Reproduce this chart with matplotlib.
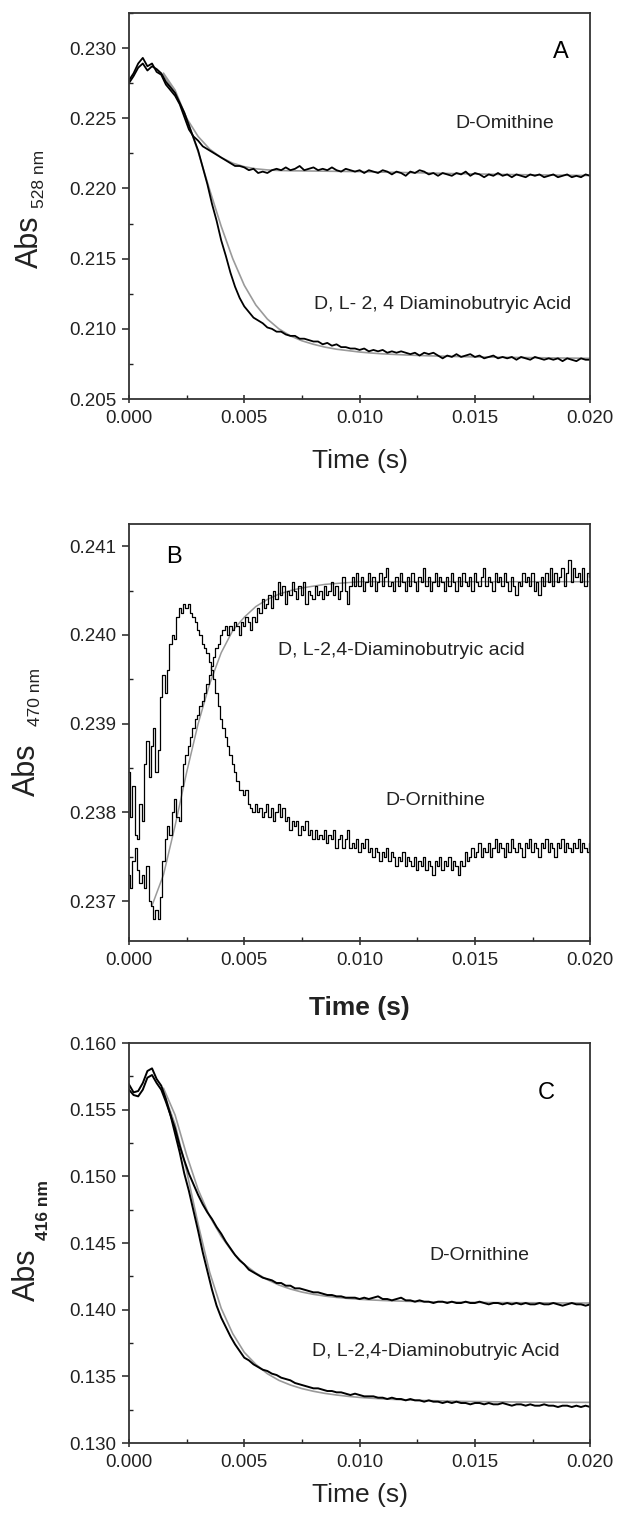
import numpy as np
import matplotlib
matplotlib.use('Agg')
import matplotlib.pyplot as plt
from matplotlib.ticker import MultipleLocator, FormatStrFormatter

plt.rcParams['font.family'] = ['Liberation Sans', 'DejaVu Sans']

# all absorbance values below are in mAbs (x1000)
# panel A, 528 nm, one point every 0.2 ms
a_orn = [227.7, 228.2, 228.9, 229.3, 228.7, 228.9, 228.3, 228.1, 227.4, 227.0,
         226.6, 226.0, 225.1, 224.2, 223.7, 223.4, 223.0, 222.8, 222.6, 222.4,
         222.2, 222.0, 221.8, 221.6, 221.6, 221.5, 221.3, 221.4, 221.1, 221.2,
         221.1, 221.3, 221.4, 221.3, 221.5, 221.3, 221.4, 221.6, 221.3, 221.4,
         221.5, 221.3, 221.4, 221.3, 221.5, 221.3, 221.2, 221.4, 221.3, 221.2,
         221.3, 221.1, 221.3, 221.2, 221.1, 221.3, 221.2, 221.0, 221.2, 221.1,
         220.9, 221.2, 221.1, 221.3, 221.2, 221.0, 221.1, 220.9, 221.1, 221.0,
         220.9, 221.1, 221.0, 221.2, 220.9, 221.1, 221.0, 220.8, 221.0, 220.9,
         221.1, 220.9, 221.0, 220.8, 221.0, 220.9, 220.8, 221.0, 220.9, 221.0,
         220.8, 220.9, 221.0, 220.8, 220.9, 221.0, 220.8, 220.9, 220.8, 221.0,
         220.9]
a_dab = [227.5, 228.0, 228.6, 228.9, 228.4, 228.7, 228.5, 228.2, 227.6, 227.2,
         226.8, 226.1, 225.4, 224.5, 223.6, 222.7, 221.5, 220.3, 218.9, 217.7,
         216.3, 215.2, 214.0, 213.0, 212.2, 211.6, 211.2, 210.8, 210.6, 210.4,
         210.1, 210.0, 209.8, 209.8, 209.6, 209.5, 209.5, 209.3, 209.3, 209.2,
         209.1, 209.1, 208.9, 209.0, 208.8, 208.9, 208.7, 208.7, 208.6, 208.6,
         208.5, 208.6, 208.4, 208.5, 208.4, 208.5, 208.3, 208.4, 208.3, 208.4,
         208.3, 208.2, 208.3, 208.1, 208.3, 208.2, 208.3, 208.1, 207.9, 208.1,
         208.0, 208.2, 208.0, 208.1, 208.2, 208.0, 208.1, 207.9, 208.0, 208.1,
         207.9, 208.0, 207.9, 208.0, 207.8, 208.0, 207.9, 207.8, 208.0, 207.9,
         207.8, 207.9, 207.8, 207.9, 207.7, 207.9, 207.8, 207.7, 207.9, 207.8,
         207.8]
# fitted curves, one point every 0.5 ms from 1.5 ms
a_orn_fit = [228.1, 226.8, 225.0, 223.7, 222.8, 222.2, 221.8, 221.55, 221.4, 221.32,
             221.28, 221.26, 221.25, 221.24, 221.23, 221.22, 221.21, 221.2, 221.18, 221.16,
             221.15, 221.13, 221.12, 221.1, 221.08, 221.06, 221.05, 221.03, 221.02, 221.0,
             220.99, 220.98, 220.97, 220.96, 220.95, 220.94, 220.93, 220.92]
a_dab_fit = [228.2, 227.0, 225.0, 222.6, 219.9, 217.3, 215.0, 213.1, 211.7, 210.7,
             210.0, 209.5, 209.15, 208.9, 208.7, 208.55, 208.45, 208.35, 208.28, 208.22,
             208.18, 208.14, 208.11, 208.08, 208.06, 208.04, 208.02, 208.0, 207.99, 207.98,
             207.97, 207.96, 207.95, 207.94, 207.93, 207.92, 207.91, 207.9]

# panel B, 470 nm, one point every 0.1 ms
b_orn = [238.45, 237.95, 238.30, 237.75, 237.70, 238.10, 237.90, 238.55, 238.80, 238.40,
         238.75, 238.95, 238.45, 238.70, 239.30, 239.55, 239.35, 239.60, 239.90, 240.00,
         239.95, 240.20, 240.30, 240.25, 240.35, 240.30, 240.35, 240.25, 240.20, 240.15,
         240.05, 240.00, 239.90, 239.85, 239.80, 239.70, 239.60, 239.50, 239.35, 239.20,
         239.05, 238.95, 238.85, 238.75, 238.65, 238.55, 238.45, 238.35, 238.25, 238.25,
         238.20, 238.25, 238.10, 238.05, 238.00, 238.10, 238.00, 238.05, 237.95, 238.00,
         238.10, 237.95, 238.05, 237.90, 238.00, 238.10, 237.95, 238.05, 237.90, 237.95,
         237.80, 237.90, 237.85, 237.90, 237.75, 237.85, 237.80, 237.90, 237.75, 237.80,
         237.70, 237.80, 237.70, 237.75, 237.70, 237.80, 237.65, 237.75, 237.70, 237.80,
         237.60, 237.70, 237.75, 237.60, 237.70, 237.80, 237.60, 237.65, 237.60, 237.70,
         237.55, 237.65, 237.60, 237.70, 237.55, 237.60, 237.50, 237.60, 237.55, 237.45,
         237.55, 237.50, 237.60, 237.45, 237.55, 237.50, 237.40, 237.50, 237.45, 237.55,
         237.40, 237.50, 237.45, 237.40, 237.50, 237.35, 237.45, 237.40, 237.50, 237.35,
         237.45, 237.40, 237.30, 237.45, 237.40, 237.50, 237.35, 237.45, 237.40, 237.50,
         237.35, 237.45, 237.40, 237.30, 237.45, 237.40, 237.55, 237.45, 237.50, 237.60,
         237.50, 237.55, 237.65, 237.50, 237.60, 237.55, 237.65, 237.50, 237.60, 237.70,
         237.55, 237.65, 237.60, 237.50, 237.65, 237.55, 237.70, 237.60, 237.55, 237.65,
         237.60, 237.50, 237.65, 237.60, 237.70, 237.55, 237.65, 237.60, 237.50, 237.65,
         237.60, 237.70, 237.55, 237.65, 237.60, 237.50, 237.65, 237.60, 237.70, 237.55,
         237.65, 237.60, 237.55, 237.65, 237.60, 237.70, 237.55, 237.65, 237.60, 237.55,
         237.65]
b_dab = [237.30, 237.15, 237.45, 237.60, 237.35, 237.20, 237.30, 237.15, 237.40, 237.00,
         236.95, 236.80, 236.90, 236.80, 237.05, 237.45, 237.70, 237.85, 237.75, 238.00,
         238.15, 237.95, 237.90, 238.30, 238.55, 238.65, 238.75, 238.85, 238.95, 239.05,
         239.10, 239.20, 239.25, 239.35, 239.45, 239.55, 239.65, 239.75, 239.85, 239.90,
         240.00, 240.05, 240.10, 240.00, 240.10, 240.05, 240.15, 240.10, 240.00, 240.15,
         240.10, 240.20, 240.15, 240.05, 240.20, 240.15, 240.30, 240.25, 240.40, 240.30,
         240.35, 240.45, 240.30, 240.50, 240.40, 240.60, 240.45, 240.55, 240.35, 240.50,
         240.45, 240.60, 240.50, 240.40, 240.55, 240.45, 240.60, 240.35, 240.50, 240.45,
         240.40, 240.55, 240.45, 240.50, 240.40, 240.55, 240.45, 240.50, 240.60, 240.45,
         240.55, 240.40, 240.50, 240.65, 240.50, 240.35, 240.55, 240.65, 240.55, 240.70,
         240.55, 240.65, 240.50, 240.60, 240.70, 240.55, 240.65, 240.50, 240.60, 240.70,
         240.55, 240.65, 240.75, 240.55, 240.60, 240.50, 240.65, 240.55, 240.70, 240.60,
         240.50, 240.65, 240.55, 240.70, 240.60, 240.50, 240.65, 240.60, 240.75, 240.55,
         240.65, 240.50, 240.60, 240.70, 240.55, 240.65, 240.60, 240.50, 240.65, 240.55,
         240.70, 240.60, 240.50, 240.65, 240.55, 240.70, 240.60, 240.55, 240.65, 240.50,
         240.70, 240.60, 240.55, 240.65, 240.75, 240.55, 240.65, 240.60, 240.50, 240.70,
         240.60, 240.65, 240.55, 240.70, 240.60, 240.50, 240.65, 240.55, 240.45, 240.60,
         240.55, 240.70, 240.60, 240.65, 240.55, 240.70, 240.50, 240.60, 240.45, 240.65,
         240.55, 240.70, 240.60, 240.75, 240.55, 240.70, 240.60, 240.65, 240.75, 240.55,
         240.70, 240.85, 240.60, 240.75, 240.65, 240.70, 240.60, 240.75, 240.55, 240.70,
         240.65]
# fit, every 0.5 ms from 1.0 ms
b_dab_fit = [236.95, 237.30, 237.85, 238.45, 239.00, 239.45, 239.80, 240.05, 240.20, 240.32,
             240.40, 240.46, 240.50, 240.53, 240.55, 240.57, 240.58, 240.59, 240.60, 240.60,
             240.60, 240.60, 240.60, 240.60, 240.60, 240.60, 240.60, 240.60, 240.60, 240.60,
             240.60, 240.60, 240.60, 240.60, 240.60, 240.60, 240.60, 240.60, 240.60]

# panel C, 416 nm, every 0.2 ms
c_orn = [156.5, 156.1, 156.0, 156.5, 157.4, 157.6, 157.0, 156.5, 155.6, 154.6,
         153.6, 152.3, 151.2, 150.2, 149.4, 148.6, 147.9, 147.3, 146.8, 146.2,
         145.7, 145.1, 144.6, 144.1, 143.7, 143.4, 143.0, 142.8, 142.6, 142.4,
         142.3, 142.2, 142.0, 142.0, 141.8, 141.8, 141.6, 141.6, 141.5, 141.4,
         141.3, 141.3, 141.2, 141.1, 141.1, 141.0, 141.0, 140.9, 140.9, 140.9,
         140.8, 140.9, 140.8, 140.9, 141.0, 140.8, 140.8, 140.7, 140.8, 140.9,
         140.7, 140.7, 140.6, 140.7, 140.6, 140.6, 140.5, 140.6, 140.6, 140.5,
         140.6, 140.5, 140.5, 140.6, 140.5, 140.5, 140.6, 140.5, 140.4, 140.5,
         140.5, 140.4, 140.5, 140.4, 140.5, 140.4, 140.5, 140.4, 140.4, 140.5,
         140.4, 140.4, 140.5, 140.4, 140.3, 140.4, 140.5, 140.4, 140.4, 140.3,
         140.4]
c_dab = [156.9, 156.3, 156.4, 157.0, 157.9, 158.1, 157.3, 156.8, 155.8, 154.6,
         153.2, 151.8, 150.2, 148.9, 147.4, 145.9, 144.3, 142.9, 141.5, 140.3,
         139.4, 138.7, 138.0, 137.4, 136.9, 136.4, 136.2, 135.9, 135.7, 135.5,
         135.4, 135.2, 135.1, 134.9, 134.8, 134.7, 134.5, 134.4, 134.3, 134.2,
         134.1, 134.1, 134.0, 133.9, 133.9, 133.8, 133.8, 133.7, 133.6, 133.7,
         133.6, 133.5, 133.5, 133.5, 133.4, 133.4, 133.3, 133.4, 133.3, 133.3,
         133.2, 133.3, 133.2, 133.2, 133.1, 133.2, 133.1, 133.1, 133.0, 133.1,
         133.0, 133.1, 133.0, 133.0, 132.9, 133.0, 133.0, 132.9, 133.0, 132.9,
         132.9, 133.0, 132.9, 132.8, 132.9, 132.9, 132.8, 132.9, 132.8, 132.8,
         132.9, 132.8, 132.8, 132.7, 132.8, 132.8, 132.7, 132.8, 132.7, 132.8,
         132.7]
c_orn_fit = [156.6, 154.6, 151.6, 149.0, 147.0, 145.5, 144.3, 143.4, 142.75, 142.25,
             141.85, 141.55, 141.32, 141.15, 141.02, 140.92, 140.84, 140.78, 140.73, 140.69,
             140.66, 140.63, 140.61, 140.59, 140.58, 140.57, 140.56, 140.55, 140.54, 140.53,
             140.53, 140.52, 140.52, 140.51, 140.51, 140.5, 140.5, 140.5]
c_dab_fit = [156.3, 153.9, 150.4, 146.4, 142.8, 140.1, 138.2, 136.8, 135.9, 135.2,
             134.7, 134.35, 134.08, 133.88, 133.72, 133.6, 133.5, 133.42, 133.36, 133.31,
             133.27, 133.23, 133.2, 133.18, 133.16, 133.14, 133.12, 133.11, 133.1, 133.09,
             133.08, 133.07, 133.07, 133.06, 133.06, 133.05, 133.05, 133.05]

xticks = [0.0, 0.005, 0.010, 0.015, 0.020]
yticks_a = [0.205, 0.210, 0.215, 0.220, 0.225, 0.230]
yticks_b = [0.237, 0.238, 0.239, 0.240, 0.241]
yticks_c = [0.130, 0.135, 0.140, 0.145, 0.150, 0.155, 0.160]


def trace(vals, t0=0.0):
    y = np.array(vals) / 1000.0
    t = np.linspace(t0, 0.02, len(y))
    return t, y


def setup(ax, yticks, ylim, yminor):
    ax.set_xlim(0, 0.02)
    ax.set_ylim(ylim)
    ax.set_xticks(xticks)
    ax.set_yticks(yticks)
    ax.xaxis.set_minor_locator(MultipleLocator(0.0025))
    ax.yaxis.set_minor_locator(MultipleLocator(yminor))
    ax.xaxis.set_major_formatter(FormatStrFormatter('%.3f'))
    ax.yaxis.set_major_formatter(FormatStrFormatter('%.3f'))
    ax.tick_params(axis='x', which='major', direction='inout', length=6, width=1.1,
                   labelsize=13.5, pad=5, colors='#222')
    ax.tick_params(axis='y', which='major', direction='out', length=5, width=1.1,
                   labelsize=13.5, pad=4, colors='#222')
    ax.tick_params(which='minor', direction='in', length=3, width=1.0, colors='#222')
    for s in ax.spines.values():
        s.set_linewidth(1.3)
        s.set_color('#333')


def ylab(ax, sub, xa, ya, xs, ys, subweight='normal'):
    ax.text(xa, ya, 'Abs', transform=ax.transAxes, rotation=90, fontsize=22,
            ha='center', va='center', color='#222')
    ax.text(xs, ys, sub, transform=ax.transAxes, rotation=90, fontsize=12.5,
            ha='center', va='center', color='#222', fontweight=subweight)


fig = plt.figure(figsize=(6.2, 15.22), dpi=100)
axA = fig.add_axes([0.208, 0.7378, 0.744, 0.2537])
axB = fig.add_axes([0.208, 0.3817, 0.744, 0.2740])
axC = fig.add_axes([0.208, 0.0519, 0.744, 0.2628])

# ---- A
t, y = trace(a_orn_fit, 0.0015)
axA.plot(t, y, color='#9a9a9a', lw=1.2, zorder=1)
t, y = trace(a_dab_fit, 0.0015)
axA.plot(t, y, color='#9a9a9a', lw=1.2, zorder=1)
t, y = trace(a_orn)
axA.plot(t, y, color='black', lw=1.3, zorder=2)
t, y = trace(a_dab)
axA.plot(t, y, color='black', lw=1.3, zorder=2)
setup(axA, yticks_a, (0.205, 0.2325), 0.0025)
axA.text(0.01631, 0.22466, 'D-Omithine', fontsize=14, ha='center', va='center', color='#222')
axA.text(0.01358, 0.2117, 'D, L- 2, 4 Diaminobutryic Acid', fontsize=14, ha='center',
         va='center', color='#222')
axA.text(0.937, 0.899, 'A', transform=axA.transAxes, fontsize=17, ha='center', va='center')
axA.set_xlabel('Time (s)', fontsize=19, color='#222')
axA.xaxis.set_label_coords(0.5, -0.13)
ylab(axA, '528 nm', -0.215, 0.407, -0.193, 0.57)

# ---- B (stepped, the detector output is quantised)
t, y = trace(b_dab_fit, 0.001)
axB.plot(t, y, color='#9a9a9a', lw=1.1, zorder=1)
t, y = trace(b_orn)
axB.plot(t, y, color='black', lw=0.9, drawstyle='steps-mid', zorder=2)
t, y = trace(b_dab)
axB.plot(t, y, color='black', lw=0.9, drawstyle='steps-mid', zorder=2)
setup(axB, yticks_b, (0.23655, 0.24125), 0.0005)
axB.text(0.0118, 0.23982, 'D, L-2,4-Diaminobutryic acid', fontsize=14, ha='center',
         va='center', color='#222')
axB.text(0.01328, 0.23813, 'D-Ornithine', fontsize=14, ha='center', va='center', color='#222')
axB.text(0.098, 0.921, 'B', transform=axB.transAxes, fontsize=17, ha='center', va='center')
axB.set_xlabel('Time (s)', fontsize=19, fontweight='bold', color='#222')
axB.xaxis.set_label_coords(0.5, -0.132)
ylab(axB, '470 nm', -0.221, 0.41, -0.203, 0.585)

# ---- C
t, y = trace(c_orn_fit, 0.0015)
axC.plot(t, y, color='#9a9a9a', lw=1.2, zorder=1)
t, y = trace(c_dab_fit, 0.0015)
axC.plot(t, y, color='#9a9a9a', lw=1.2, zorder=1)
t, y = trace(c_orn)
axC.plot(t, y, color='black', lw=1.4, zorder=2)
t, y = trace(c_dab)
axC.plot(t, y, color='black', lw=1.4, zorder=2)
setup(axC, yticks_c, (0.130, 0.160), 0.0025)
axC.text(0.01518, 0.1441, 'D-Ornithine', fontsize=14, ha='center', va='center', color='#222')
axC.text(0.01332, 0.13683, 'D, L-2,4-Diaminobutryic Acid', fontsize=14, ha='center',
         va='center', color='#222')
axC.text(0.905, 0.875, 'C', transform=axC.transAxes, fontsize=17, ha='center', va='center')
axC.set_xlabel('Time (s)', fontsize=19, color='#222')
axC.xaxis.set_label_coords(0.5, -0.1)
ylab(axC, '416 nm', -0.221, 0.42, -0.185, 0.5825, subweight='bold')

fig.savefig('out.png', dpi=100)
